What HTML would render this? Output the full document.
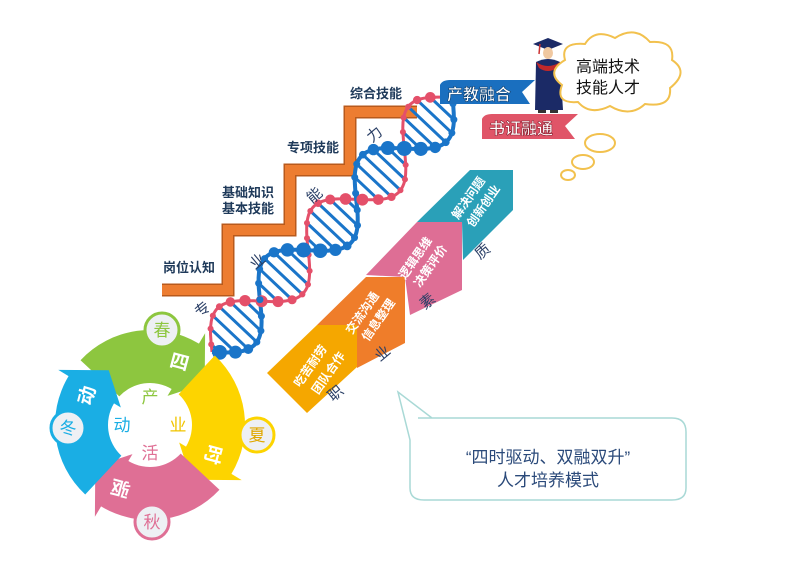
<!DOCTYPE html>
<html><head><meta charset="utf-8">
<style>
html,body{margin:0;padding:0;background:#fff;width:800px;height:565px;overflow:hidden}
svg{display:block}
text{font-family:"Liberation Sans","Noto Sans CJK SC",sans-serif}
</style></head>
<body>
<svg id="s" width="800" height="565" viewBox="0 0 800 565" xmlns="http://www.w3.org/2000/svg">
<polyline points="162,290 228,290 228,230 290,230 290,170 350,170 350,112 417,112" fill="none" stroke="#b85a1c" stroke-width="13"/>
<polyline points="162,290 228,290 228,230 290,230 290,170 350,170 350,112 417,112" fill="none" stroke="#ed7d31" stroke-width="10"/>
<g font-size="13" fill="#1f3a5a" font-weight="bold">
<text x="163" y="272">岗位认知</text>
<text x="222" y="197">基础知识</text>
<text x="222" y="213">基本技能</text>
<text x="287" y="152">专项技能</text>
<text x="350" y="98">综合技能</text>
</g>
<g id="dna"></g>
<polygon points="267,373 317,325 357,325 357,367 307,413" fill="#f5a700"/>
<polygon points="317,325 366,277 405,277 405,343 357,368 357,325" fill="#ef7d2a"/>
<polygon points="366,275 417,222 462,222 462,290 410,315 405,277" fill="#de6e95"/>
<polygon points="417,222 470,170 513,170 513,210 463,260 462,222" fill="#2aa0b8"/>
<g fill="#fff" font-size="12" font-weight="bold">
<text transform="translate(300,388) rotate(-55)">吃苦耐劳</text>
<text transform="translate(318,395) rotate(-55)">团队合作</text>
<text transform="translate(352,335) rotate(-55)">交流沟通</text>
<text transform="translate(368,342) rotate(-55)">信息整理</text>
<text transform="translate(405,280) rotate(-55)">逻辑思维</text>
<text transform="translate(420,288) rotate(-55)">决策评价</text>
<text transform="translate(458,220) rotate(-55)">解决问题</text>
<text transform="translate(473,228) rotate(-55)">创新创业</text>
</g>
<g fill="#2a3f66" font-size="15">
<text transform="translate(200,318) rotate(-40)">专</text>
<text transform="translate(255,270) rotate(-40)">业</text>
<text transform="translate(312,204) rotate(-40)">能</text>
<text transform="translate(372,143) rotate(-40)">力</text>
<text transform="translate(333,402) rotate(-40)">职</text>
<text transform="translate(380,362) rotate(-40)">业</text>
<text transform="translate(425,310) rotate(-40)">素</text>
<text transform="translate(480,260) rotate(-40)">质</text>
</g>
<path d="M440,85 Q442,80 450,80 L535,80 L522,92 L530,104 L440,104 Z" fill="#1a6fbf"/>
<text x="447" y="100" font-size="16" font-weight="bold" fill="#fff" stroke="#0d3f70" stroke-width="0.6">产教融合</text>
<path d="M482,119 Q484,114 492,114 L578,114 L565,126 L575,139 L482,139 Z" fill="#e05568"/>
<text x="489" y="134" font-size="16" font-weight="bold" fill="#fff" stroke="#8a2030" stroke-width="0.6">书证融通</text>
<polygon points="533,44 548,38 563,44 548,50" fill="#1b2a66"/>
<line x1="540" y1="44" x2="539" y2="54" stroke="#c33" stroke-width="1.5"/>
<ellipse cx="548" cy="53" rx="5" ry="6" fill="#f0c8a0"/>
<path d="M536,62 Q548,56 560,62 L563,110 L535,110 Z" fill="#1b2a66"/>
<path d="M536,62 Q548,70 560,62 L557,68 Q548,74 539,68 Z" fill="#c0282a"/>
<rect x="538" y="110" width="8" height="3" fill="#333"/><rect x="550" y="110" width="8" height="3" fill="#333"/>
<path d="M565,60 Q560,42 585,44 Q595,28 615,38 Q635,25 650,42 Q675,40 672,60 Q690,72 670,88 Q672,108 645,104 Q630,118 610,106 Q590,116 578,102 Q555,104 562,85 Q545,72 565,60 Z" fill="#fff" stroke="#f2c14e" stroke-width="2"/>
<text x="576" y="72" font-size="16" fill="#111">高端技术</text>
<text x="576" y="93" font-size="16" fill="#111">技能人才</text>
<ellipse cx="600" cy="143" rx="15" ry="9" fill="none" stroke="#f2c14e" stroke-width="2"/>
<ellipse cx="583" cy="162" rx="11" ry="7" fill="none" stroke="#f2c14e" stroke-width="2"/>
<ellipse cx="568" cy="175" rx="7" ry="5" fill="none" stroke="#f2c14e" stroke-width="2"/>
<path d="M418,418 L672,418 Q686,418 686,432 L686,488 Q686,500 672,500 L424,500 Q410,500 410,488 L410,440 L398,392 L432,418 Z" fill="#fff" stroke="#a9d9d6" stroke-width="1.5"/>
<text x="548" y="463" font-size="17" fill="#2b4a7a" text-anchor="middle">“四时驱动、双融双升”</text>
<text x="548" y="486" font-size="17" fill="#2b4a7a" text-anchor="middle">人才培养模式</text>
<g id="cyc"></g>
</svg>
<script>
var NS="http://www.w3.org/2000/svg";
function el(p,t,a,txt){var e=document.createElementNS(NS,t);for(var k in a)e.setAttribute(k,a[k]);if(txt)e.textContent=txt;p.appendChild(e);return e;}
var g=document.getElementById('dna');
var A=[212,352],B=[452,98],dx=B[0]-A[0],dy=B[1]-A[1],L=Math.hypot(dx,dy),u=[dx/L,dy/L],n=[-u[1],u[0]];
var amp=26,lam=140;
function pt(t,ph){var s=amp*Math.sin(2*Math.PI*t/lam+ph);return [A[0]+u[0]*t+n[0]*s,A[1]+u[1]*t+n[1]*s];}
var d1="",d2="";
for(var t=0;t<=L;t+=2){var p=pt(t,0),q=pt(t,Math.PI);d1+=(t?"L":"M")+p[0].toFixed(1)+","+p[1].toFixed(1);d2+=(t?"L":"M")+q[0].toFixed(1)+","+q[1].toFixed(1);}
for(var t=5;t<L;t+=11){var p=pt(t,0),q=pt(t,Math.PI);el(g,'line',{x1:p[0],y1:p[1],x2:q[0],y2:q[1],stroke:'#1a75c9','stroke-width':3});}
el(g,'path',{d:d2,fill:'none',stroke:'#e4506a','stroke-width':3});
el(g,'path',{d:d1,fill:'none',stroke:'#1a75c9','stroke-width':4});
for(var t=5;t<L;t+=11){var c=Math.cos(2*Math.PI*t/lam);var p=pt(t,0),q=pt(t,Math.PI);
el(g,'circle',{cx:q[0],cy:q[1],r:3+3*Math.max(0,-c),fill:'#e4506a'});
el(g,'circle',{cx:p[0],cy:p[1],r:3.5+4*Math.max(0,c),fill:'#1a75c9'});}
var cy=document.getElementById('cyc'),C=[150,425];
function P(a,r){var rad=(a-90)*Math.PI/180;return [C[0]+r*Math.cos(rad),C[1]+r*Math.sin(rad)];}
var cols=['#8dc63f','#fdd400','#df6f95','#1aaee4'];
var R1=42,R2=95;
for(var k=0;k<4;k++){var a0=-47+90*k,a1=a0+78,a2=a1+22;
var o0=P(a0,R2),o1=P(a1,R2),i1=P(a1,R1),i0=P(a0,R1),h1=P(a1,R2+12),h2=P(a2,(R1+R2)/2),h3=P(a1,R1-8);
var d="M"+o0+" A"+R2+","+R2+" 0 0 1 "+o1+" L"+h1+" L"+h2+" L"+h3+" L"+i1+" A"+R1+","+R1+" 0 0 0 "+i0+" Z";
el(cy,'path',{d:d,fill:cols[k]});}
var inner=[['产',0,'#8dc63f'],['业',90,'#f0c400'],['活',180,'#df6f95'],['动',270,'#1aaee4']];
inner.forEach(function(x){var p=P(x[1],28);el(cy,'text',{x:p[0],y:p[1]+6,'font-size':17,fill:x[2],'text-anchor':'middle'},x[0]);});
var seg=[['四',25],['时',115],['驱',205],['动',295]];
seg.forEach(function(x){var p=P(x[1],70);el(cy,'text',{x:p[0],y:p[1]+7,'font-size':19,'font-weight':'bold',fill:'#fff','text-anchor':'middle',transform:'rotate('+(x[1]-10)+' '+p[0]+' '+(p[1])+')'},x[0]);});
var sea=[['春',[162,330],'#8dc63f'],['夏',[257,435],'#fdd400'],['秋',[152,522],'#df6f95'],['冬',[68,428],'#1aaee4']];
sea.forEach(function(x){el(cy,'circle',{cx:x[1][0],cy:x[1][1],r:17,fill:'#eef0f4',stroke:x[2],'stroke-width':3});
el(cy,'text',{x:x[1][0],y:x[1][1]+6,'font-size':17,fill:x[2]=='#fdd400'?'#e0a800':x[2],'text-anchor':'middle'},x[0]);});
</script>
</body></html>
